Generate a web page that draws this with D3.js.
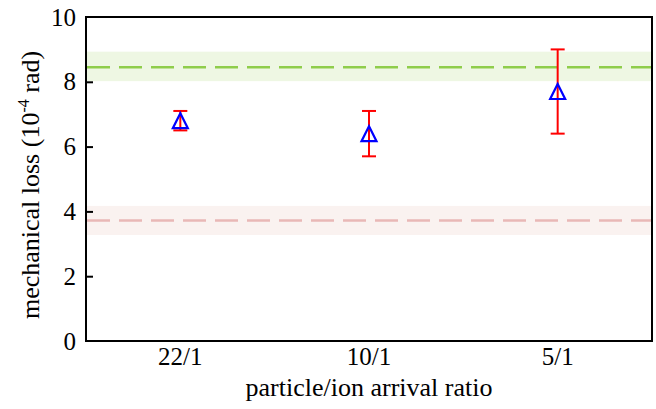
<!DOCTYPE html>
<html>
<head>
<meta charset="utf-8">
<script src="https://cdn.jsdelivr.net/npm/d3@7"></script>
<style>
  html, body { margin: 0; padding: 0; background: #fff; }
  svg { display: block; }
  text { font-family: "Liberation Serif", "Times New Roman", serif; fill: #000; }
</style>
</head>
<body>
<svg id="chart" width="656" height="409"></svg>
<script>
const categories = ["22/1", "10/1", "5/1"];
const values = [6.8, 6.4, 7.7];
const errors = [0.3, 0.7, 1.3];
const yTicks = [0, 2, 4, 6, 8, 10];
const greenRef = { value: 8.45, low: 8.02, high: 8.93 };
const pinkRef = { value: 3.72, low: 3.27, high: 4.17 };

const svg = d3.select("#chart");
const margin = { left: 86, right: 4, top: 17, bottom: 68 };
const W = 656, H = 409;
const x0 = margin.left, x1 = W - margin.right, y0 = H - margin.bottom, y1 = margin.top;

const x = d3.scaleBand().domain(categories).range([x0, x1]).padding(0);
const y = d3.scaleLinear().domain([0, 10]).range([y0, y1]);

// reference bands
function band(ref, fill, stroke) {
  svg.append("rect")
    .attr("x", x0).attr("width", x1 - x0)
    .attr("y", y(ref.high)).attr("height", y(ref.low) - y(ref.high))
    .attr("fill", fill);
  svg.append("line")
    .attr("x1", x0 + 1).attr("x2", x1)
    .attr("y1", y(ref.value)).attr("y2", y(ref.value))
    .attr("stroke", stroke).attr("stroke-width", 2.5)
    .attr("stroke-dasharray", "23,9");
}
band(greenRef, "#eef7e3", "#8fcd4b");
band(pinkRef, "#faf2f0", "#e9b8b6");

// y axis ticks (inward) + labels
const yAxis = d3.axisLeft(y).tickValues(yTicks).tickSize(-7).tickPadding(10).tickFormat(d3.format("d"));
const ga = svg.append("g").attr("transform", `translate(${x0},0)`).call(yAxis);
ga.attr("font-size", null).attr("font-family", null);
ga.select(".domain").remove();
ga.selectAll(".tick line").attr("stroke", "#000").attr("stroke-width", 2)
  .filter(d => d === 0 || d === 10).remove();
ga.selectAll(".tick text").style("font-size", "25px").style("font-family", "Liberation Serif, Times New Roman, serif");

// x labels
const xAxis = d3.axisBottom(x).tickSize(0).tickPadding(6);
const gx = svg.append("g").attr("transform", `translate(0,${y0})`).call(xAxis);
gx.attr("font-size", null).attr("font-family", null);
gx.select(".domain").remove();
gx.selectAll(".tick text").style("font-size", "25px").style("font-family", "Liberation Serif, Times New Roman, serif");

// frame
svg.append("rect")
  .attr("x", x0).attr("y", y1).attr("width", x1 - x0).attr("height", y0 - y1)
  .attr("fill", "none").attr("stroke", "#000").attr("stroke-width", 2);

// error bars
const pts = categories.map((c, i) => ({ c, v: values[i], e: errors[i] }));
const cx = d => x(d.c) + x.bandwidth() / 2;
const eb = svg.append("g").attr("stroke", "#ff0000").attr("stroke-width", 2);
eb.selectAll(".v").data(pts).join("line")
  .attr("x1", cx).attr("x2", cx)
  .attr("y1", d => y(d.v + d.e)).attr("y2", d => y(d.v - d.e));
eb.selectAll(".t").data(pts).join("line")
  .attr("x1", d => cx(d) - 7).attr("x2", d => cx(d) + 7)
  .attr("y1", d => y(d.v + d.e)).attr("y2", d => y(d.v + d.e));
eb.selectAll(".b").data(pts).join("line")
  .attr("x1", d => cx(d) - 7).attr("x2", d => cx(d) + 7)
  .attr("y1", d => y(d.v - d.e)).attr("y2", d => y(d.v - d.e));

// triangle markers
const s = 7.5;
svg.append("g").selectAll("path").data(pts).join("path")
  .attr("d", d => {
    const px = cx(d), py = y(d.v);
    return `M${px},${py - s}L${px - s},${py + s}L${px + s},${py + s}Z`;
  })
  .attr("fill", "none").attr("stroke", "#0000ff").attr("stroke-width", 2.2)
  .attr("stroke-linejoin", "miter");

// axis titles
svg.append("text")
  .attr("x", (x0 + x1) / 2).attr("y", 396)
  .attr("text-anchor", "middle").style("font-size", "26px")
  .text("particle/ion arrival ratio");

const yt = svg.append("text")
  .attr("transform", `translate(39,185) rotate(-90)`)
  .attr("text-anchor", "middle").style("font-size", "26px");
yt.append("tspan").text("mechanical loss (10");
yt.append("tspan").style("font-size", "16px").attr("dy", -10).text("-4");
yt.append("tspan").attr("dy", 10).text(" rad)");
</script>
</body>
</html>
